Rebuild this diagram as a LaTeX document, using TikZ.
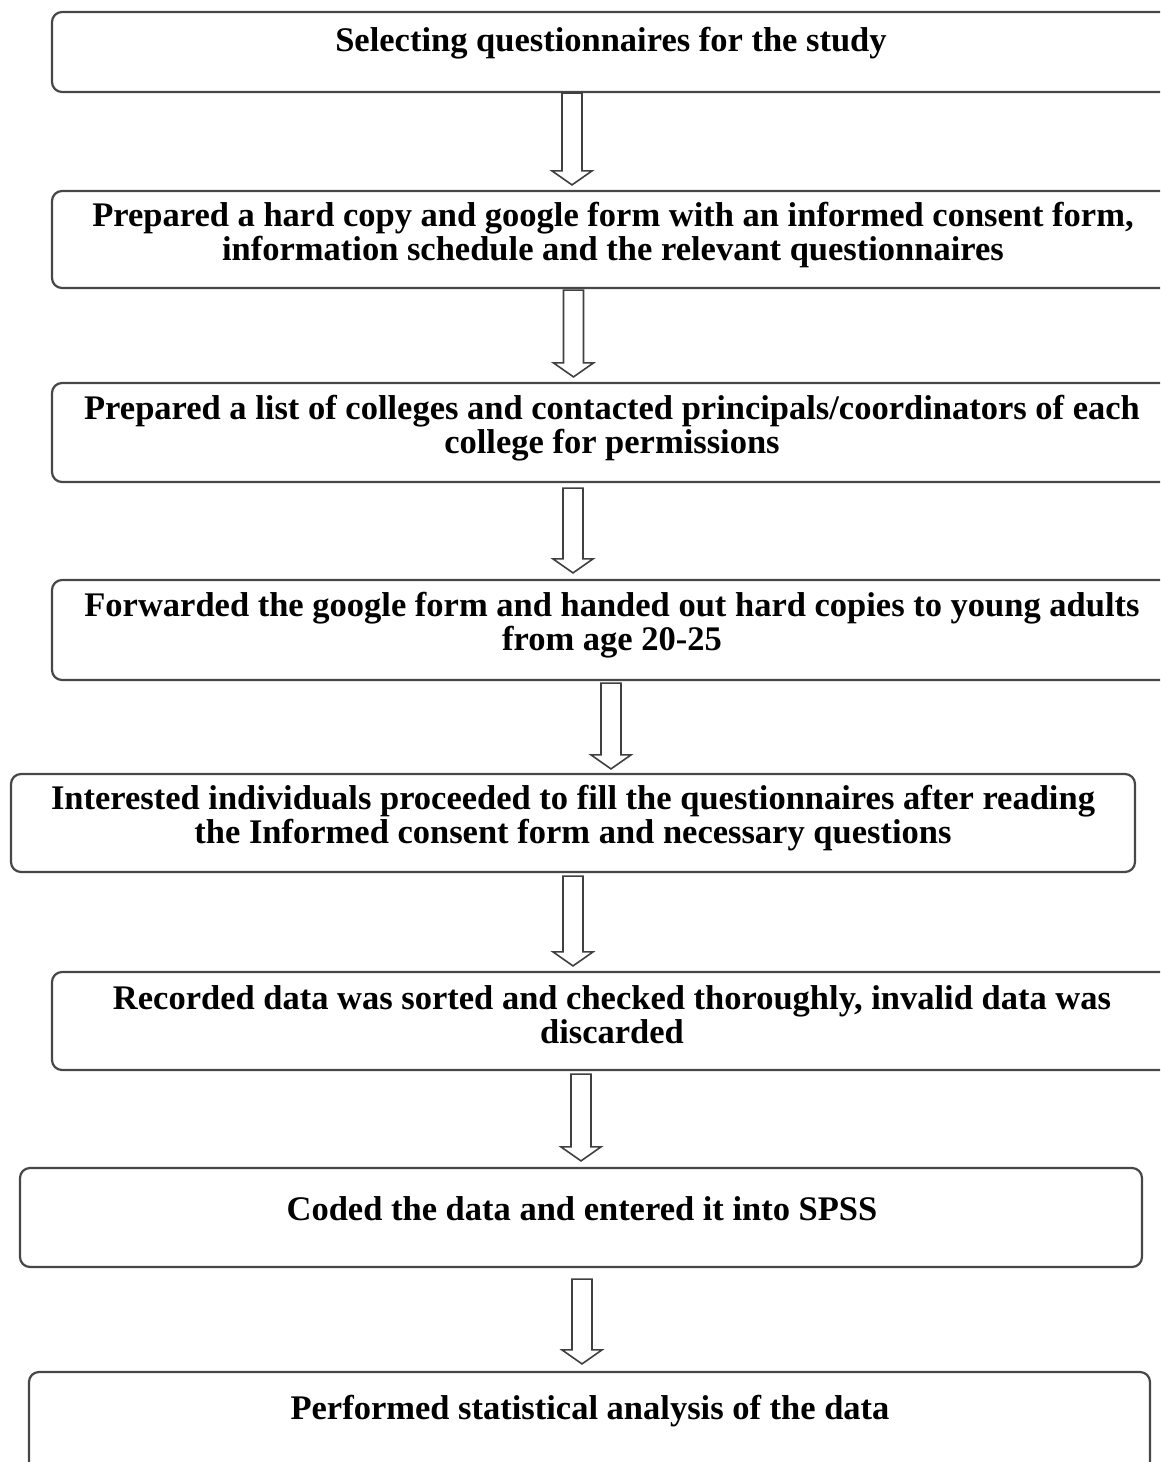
\documentclass[tikz,border=0pt]{standalone}
\usepackage{fontspec}
\setmainfont{Liberation Serif}
\usetikzlibrary{calc}
\tikzset{
  box/.style={draw=black!72, line width=2.2pt, rounded corners=10pt, inner sep=0pt, rectangle},
  txt/.style={align=center, inner sep=0pt, font=\fontsize{34.5pt}{34pt}\selectfont\bfseries},
  blockarrow/.style={draw=black!75, line width=1.6pt, fill=white, line join=miter}
}
% #1 x, #2 from node, #3 to node, #4 gap below source, #5 gap above target
\newcommand\blockarr[5]{%
  \draw[blockarrow] let \p1=(#2.south), \p2=(#3.north) in
    (#1pt-10pt,\y1-#4pt) -- (#1pt-10pt,\y2+#5pt+14pt) -- (#1pt-20pt,\y2+#5pt+14pt)
    -- (#1pt,\y2+#5pt) -- (#1pt+20pt,\y2+#5pt+14pt) -- (#1pt+10pt,\y2+#5pt+14pt)
    -- (#1pt+10pt,\y1-#4pt) -- cycle;}
\begin{document}
\begin{tikzpicture}[x=1pt,y=-1pt]
\useasboundingbox (0,0) rectangle (1160,1462);
\clip (0,0) rectangle (1160,1462);
% boxes
\node[box, minimum width=1120pt, minimum height=80pt]  (b1) at (612,52) {};
\node[box, minimum width=1120pt, minimum height=97pt]  (b2) at (612,239.5) {};
\node[box, minimum width=1120pt, minimum height=99pt]  (b3) at (612,432.5) {};
\node[box, minimum width=1120pt, minimum height=100pt] (b4) at (612,630) {};
\node[box, minimum width=1124pt, minimum height=98pt]  (b5) at (573,823) {};
\node[box, minimum width=1120pt, minimum height=98pt]  (b6) at (612,1021) {};
\node[box, minimum width=1122pt, minimum height=99pt]  (b7) at (581,1217.5) {};
\node[box, minimum width=1121pt, minimum height=128pt] (b8) at (589.5,1436) {};
% texts
\node[txt] (t1) at (611,43) {Selecting questionnaires for the study};
\node[txt] (t2) at (613,235) {Prepared a hard copy and google form with an informed consent form,\\information schedule and the relevant questionnaires};
\node[txt] (t3) at (612,428) {Prepared a list of colleges and contacted principals/coordinators of each\\college for permissions};
\node[txt] (t4) at (612,625) {Forwarded the google form and handed out hard copies to young adults\\from age 20-25};
\node[txt] (t5) at (573,818) {Interested individuals proceeded to fill the questionnaires after reading\\the Informed consent form and necessary questions};
\node[txt] (t6) at (612,1015) {Recorded data was sorted and checked thoroughly, invalid data was\\discarded};
\node[txt] (t7) at (582,1209) {Coded the data and entered it into SPSS};
\node[txt] (t8) at (590,1411) {Performed statistical analysis of the data};
% arrows
\blockarr{572}{b1}{b2}{0}{5}
\blockarr{573.5}{b2}{b3}{1}{5}
\blockarr{573}{b3}{b4}{5}{6}
\blockarr{611}{b4}{b5}{2}{4}
\blockarr{573}{b5}{b6}{3}{5}
\blockarr{581}{b6}{b7}{3}{6}
\blockarr{582}{b7}{b8}{11}{7}
\end{tikzpicture}
\end{document}
